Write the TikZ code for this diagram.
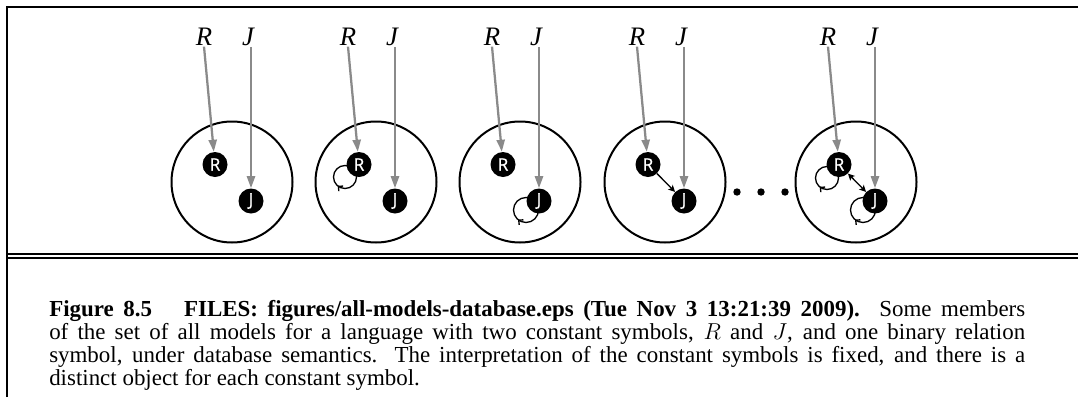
\documentclass[tikz,border=0pt]{standalone}
\usepackage{fontspec}
\setmainfont{Liberation Serif}
\newfontfamily\objfont[FakeBold=0.8]{Open Sans}
\usetikzlibrary{arrows.meta,decorations.markings,backgrounds}
\definecolor{arrgray}{RGB}{138,138,138}
\begin{document}
\begin{tikzpicture}[x=0.75pt,y=-0.75pt,
  obj/.style={circle,fill=black,minimum size=18.75pt,inner sep=0pt,text=white,
    font=\objfont\fontsize{13}{14}\selectfont},
  lab/.style={inner sep=1pt,font=\itshape\fontsize{20}{23}\selectfont},
  world/.style={line width=1.5pt},
  grayarr/.style={draw=arrgray,line width=1.7pt,-{Triangle[length=9pt,width=6pt]}},
  blkarr/.style={line width=1pt,-{Stealth[length=5pt,width=5pt,inset=1.2pt]}},
  blkarrtwo/.style={line width=1pt,{Stealth[length=5pt,width=5pt,inset=1.2pt]}-{Stealth[length=5pt,width=5pt,inset=1.2pt]}},
  loopline/.style={line width=1pt,postaction={decorate},
    decoration={markings,mark=at position 0.36 with {\arrow{Straight Barb[length=2.5pt,width=5pt]}}}},
  frame/.style={line width=1.5pt},
  rule/.style={line width=1pt}]
\useasboundingbox (0,0) rectangle (1078,397);
% frame
\draw[frame] (7,397) -- (7,6.5) -- (1078,6.5);
\draw[rule] (8,254) -- (1078,254);
\draw[rule] (8,258) -- (1078,258);
% worlds
\foreach \cx [count=\i] in {232,376,520,665,856} {
  \draw[world] (\cx,182) circle[radius=60.5];
  \node[obj] (r\i) at (\cx-17,164.5) {R};
  \node[obj] (j\i) at (\cx+19,201) {J};
  \node[lab,anchor=base] (rl\i) at (\cx-28,45) {R};
  \node[lab,anchor=base] (jl\i) at (\cx+16,45) {J};
  \draw[grayarr] (rl\i.south) -- (r\i);
  \draw[grayarr] (j\i |- jl\i.south) -- (j\i);
}
% loops (behind the objects)
\begin{scope}[on background layer]
  \draw[loopline] ([shift={(-14,12.5)}]r2.center) circle[radius=11.5];
  \draw[loopline] ([shift={(-13,9)}]j3.center) circle[radius=12.5];
  \draw[loopline] ([shift={(-12,13.5)}]r5.center) circle[radius=11.5];
  \draw[loopline] ([shift={(-12,9)}]j5.center) circle[radius=12.5];
\end{scope}
% relations
\draw[blkarr] (r4) -- (j4);
\draw[blkarrtwo] (r5) -- (j5);
% ellipsis dots
\fill (737,192) circle[radius=3.7];
\fill (761,192) circle[radius=3.7];
\fill (785,192) circle[radius=3.7];
% caption
\node[anchor=base west,inner sep=0pt] (cap) at (49,316) {\parbox[t]{732pt}{\fontsize{17.2}{17.25}\selectfont\emergencystretch=2em
\textbf{Figure 8.5}\hspace{24pt}\textbf{FILES: figures/all-models-database.eps (Tue Nov 3 13:21:39 2009).} Some members\linebreak
of the set of all models for a language with two constant symbols, $R$ and $J$, and one binary relation\linebreak
symbol, under database semantics. The interpretation of the constant symbols is fixed, and there is a\linebreak
distinct object for each constant symbol.}};
\end{tikzpicture}
\end{document}
